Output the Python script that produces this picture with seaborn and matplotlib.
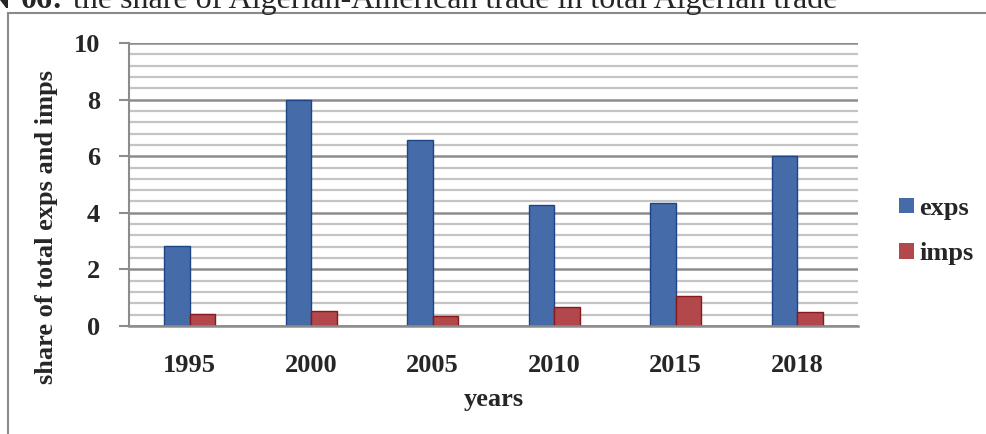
import pandas as pd
import matplotlib.pyplot as plt
import seaborn as sns
from matplotlib.patches import Rectangle
from matplotlib.ticker import MultipleLocator

# Values
years = ['1995', '2000', '2005', '2010', '2015', '2018']
exps = [2.83, 7.97, 6.58, 4.28, 4.35, 5.99]
imps = [0.42, 0.53, 0.37, 0.67, 1.06, 0.50]

df = pd.DataFrame({
    'years': years * 2,
    'serie': ['exps'] * len(years) + ['imps'] * len(years),
    'value': exps + imps,
})

sns.set_style('white')
plt.rcParams['font.family'] = ['Liberation Serif', 'DejaVu Serif']

W, H = 987, 434
fig = plt.figure(figsize=(W / 100, H / 100), dpi=100)

# outer chart frame (left and top edges visible only)
fig.patches.append(Rectangle((8 / W, -0.2), 1.2, (H - 13) / H + 0.2,
                             transform=fig.transFigure, fill=False,
                             edgecolor='#8a8a8a', linewidth=1.5))

ax = fig.add_axes([129 / W, 1 - 326 / H, (858 - 129) / W, (326 - 43) / H])

sns.barplot(data=df, x='years', y='value', hue='serie', ax=ax,
            palette={'exps': '#3467ba', 'imps': '#c4363a'},
            width=0.42, gap=0, edgecolor=None, linewidth=0)

for bar, edge in zip(ax.patches, ['#1d4585'] * 6 + ['#861a1c'] * 6):
    bar.set_edgecolor(edge)
    bar.set_linewidth(1.0)

ax.set_ylim(0, 10)
ax.set_xlim(-0.5, 5.5)
ax.yaxis.set_major_locator(MultipleLocator(2))
ax.yaxis.set_minor_locator(MultipleLocator(0.4))
ax.grid(which='major', axis='y', color='#8c8c8c', linewidth=1.8)
ax.grid(which='minor', axis='y', color='#c4c4c4', linewidth=1.6)
ax.set_axisbelow(True)

for s in ['top', 'right']:
    ax.spines[s].set_visible(False)
ax.spines['left'].set_color('#8c8c8c')
ax.spines['bottom'].set_color('#8c8c8c')
ax.spines['left'].set_linewidth(1.5)
ax.spines['bottom'].set_linewidth(1.8)

ax.tick_params(axis='y', which='major', length=7, width=1.5, color='#8c8c8c',
               left=True, pad=14, labelsize=19)
ax.tick_params(axis='y', which='minor', length=0)
ax.tick_params(axis='x', length=0, pad=20, labelsize=19)
for lbl in ax.get_xticklabels() + ax.get_yticklabels():
    lbl.set_fontweight('bold')

ax.set_xlabel('years', fontsize=19, fontweight='bold', labelpad=8)
ax.set_ylabel('share of total exps and imps', fontsize=19, fontweight='bold')
ax.yaxis.set_label_coords(-0.098, 0.35)

ax.legend(loc='center left', bbox_to_anchor=(886 / W, 1 - 231 / H),
          bbox_transform=fig.transFigure, frameon=False,
          prop={'family': 'Liberation Serif', 'weight': 'bold', 'size': 19},
          handlelength=0.55, handleheight=0.55, handletextpad=0.2,
          labelspacing=0.85, borderpad=0)

# title clipped at the top of the image
fig.text(-13 / W, 1 - 8 / H, 'N°', fontsize=23, fontweight='bold',
         va='baseline', ha='left')
fig.text(21 / W, 1 - 8 / H, '06:', fontsize=23, fontweight='bold',
         va='baseline', ha='left')
fig.text(73 / W, 1 - 8 / H,
         'the share of Algerian-American trade in total Algerian trade',
         fontsize=23, va='baseline', ha='left')

fig.savefig('out.png', dpi=100)
